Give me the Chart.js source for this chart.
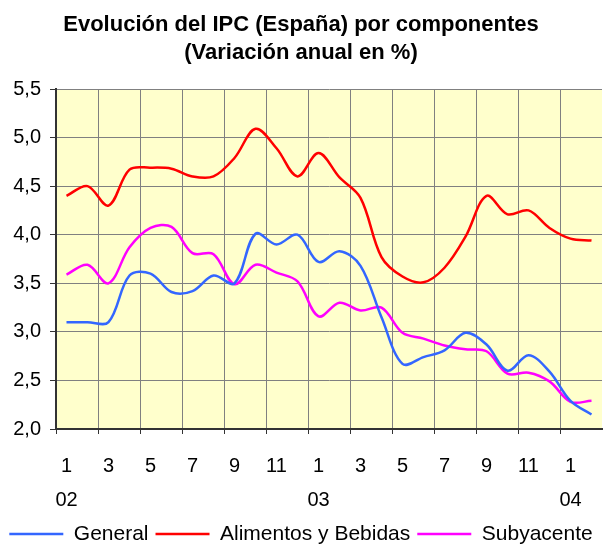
<!DOCTYPE html>
<html lang="es">
<head>
<meta charset="utf-8">
<title>Evolución del IPC (España) por componentes</title>
<script src="https://cdn.jsdelivr.net/npm/chart.js@4/dist/chart.umd.min.js"></script>
<style>
  html, body { margin: 0; padding: 0; background: #ffffff; }
  #wrap { width: 608px; height: 544px; }
</style>
</head>
<body>
<div id="wrap"><canvas id="ipcChart" width="608" height="544"></canvas></div>
<script>
// ── Datos (variación anual en %) ─────────────
const MONTHS = ['1', '2', '3', '4', '5', '6', '7', '8', '9', '10', '11', '12',
                '1', '2', '3', '4', '5', '6', '7', '8', '9', '10', '11', '12',
                '1', '2'];
const YEARS = { 0: '02', 12: '03', 24: '04' };

const GENERAL    = [3.10, 3.10, 3.10, 3.58, 3.60, 3.41, 3.42, 3.58, 3.50, 4.01, 3.90, 4.00,
                    3.72, 3.83, 3.68, 3.15, 2.67, 2.74, 2.81, 2.99, 2.87, 2.60, 2.76, 2.59,
                    2.29, 2.15];
const ALIMENTOS  = [4.40, 4.50, 4.30, 4.67, 4.69, 4.68, 4.60, 4.60, 4.79, 5.09, 4.89, 4.60,
                    4.84, 4.59, 4.38, 3.77, 3.57, 3.51, 3.66, 3.98, 4.40, 4.21, 4.25, 4.07,
                    3.96, 3.94];
const SUBYACENTE = [3.59, 3.69, 3.50, 3.87, 4.07, 4.08, 3.81, 3.80, 3.49, 3.69, 3.61, 3.52,
                    3.16, 3.30, 3.22, 3.25, 2.99, 2.93, 2.86, 2.82, 2.80, 2.57, 2.58, 2.49,
                    2.28, 2.29];

const Y_MIN = 2.0, Y_MAX = 5.5, Y_STEP = 0.5;

const FONT = 'Arial, "Liberation Sans", sans-serif';
const GRID = '#808080';

// ── Fondo amarillo del área de trazado ───────
const plotBackground = {
  id: 'plotBackground',
  beforeDraw(chart) {
    const { ctx, chartArea: a } = chart;
    ctx.save();
    ctx.fillStyle = '#FFFFCC';
    ctx.fillRect(a.left, a.top, a.right - a.left, a.bottom - a.top);
    ctx.restore();
  }
};

function serie(label, data, color) {
  return {
    label,
    data,
    borderColor: color,
    backgroundColor: color,
    borderWidth: 2.5,
    pointRadius: 0,
    tension: 0.35,
    fill: false
  };
}

new Chart(document.getElementById('ipcChart'), {
  type: 'line',
  data: {
    labels: MONTHS,
    datasets: [
      serie('General', GENERAL, '#3366FF'),
      serie('Alimentos y Bebidas', ALIMENTOS, '#FF0000'),
      serie('Subyacente', SUBYACENTE, '#FF00FF')
    ]
  },
  options: {
    responsive: false,
    animation: false,
    layout: { padding: { left: 0, right: 6, top: 0, bottom: -10.5 } },
    plugins: {
      title: {
        display: true,
        text: ['Evolución del IPC (España) por componentes', '(Variación anual en %)'],
        color: '#000',
        font: { family: FONT, size: 22, weight: 'bold', lineHeight: 28 / 22 },
        padding: { top: 11, bottom: 22 }
      },
      legend: {
        position: 'bottom',
        labels: {
          color: '#000',
          font: { family: FONT, size: 21 },
          usePointStyle: true,
          pointStyle: 'line',
          pointStyleWidth: 54,
          padding: 7
        }
      },
      tooltip: { enabled: false }
    },
    scales: {
      x: {
        offset: true,
        afterFit(scale) { scale.height = 87.5; },
        grid: {
          offset: true,
          color: ctx => (ctx.index % 2 === 0 ? GRID : 'rgba(0,0,0,0)'),
          tickColor: ctx => (ctx.index % 2 === 0 ? '#333' : 'rgba(0,0,0,0)'),
          tickLength: 5,
          lineWidth: 1
        },
        border: { color: '#333', width: 2 },
        ticks: {
          autoSkip: false,
          maxRotation: 0,
          minRotation: 0,
          padding: 15,
          color: '#000',
          font: { family: FONT, size: 20, lineHeight: 34.4 / 20 },
          callback(value, i) {
            if (i % 2 !== 0) return '';
            return YEARS[i] ? [MONTHS[i], YEARS[i]] : MONTHS[i];
          }
        }
      },
      y: {
        min: Y_MIN,
        max: Y_MAX,
        afterFit(scale) { scale.width = 56; },
        grid: { color: GRID, tickColor: '#333', tickLength: 6, lineWidth: 1 },
        border: { color: '#333', width: 2 },
        ticks: {
          stepSize: Y_STEP,
          padding: 9,
          color: '#000',
          font: { family: FONT, size: 20 },
          callback(value) {
            return value.toFixed(1).replace('.', ',');
          }
        }
      }
    }
  },
  plugins: [plotBackground]
});
</script>
</body>
</html>
